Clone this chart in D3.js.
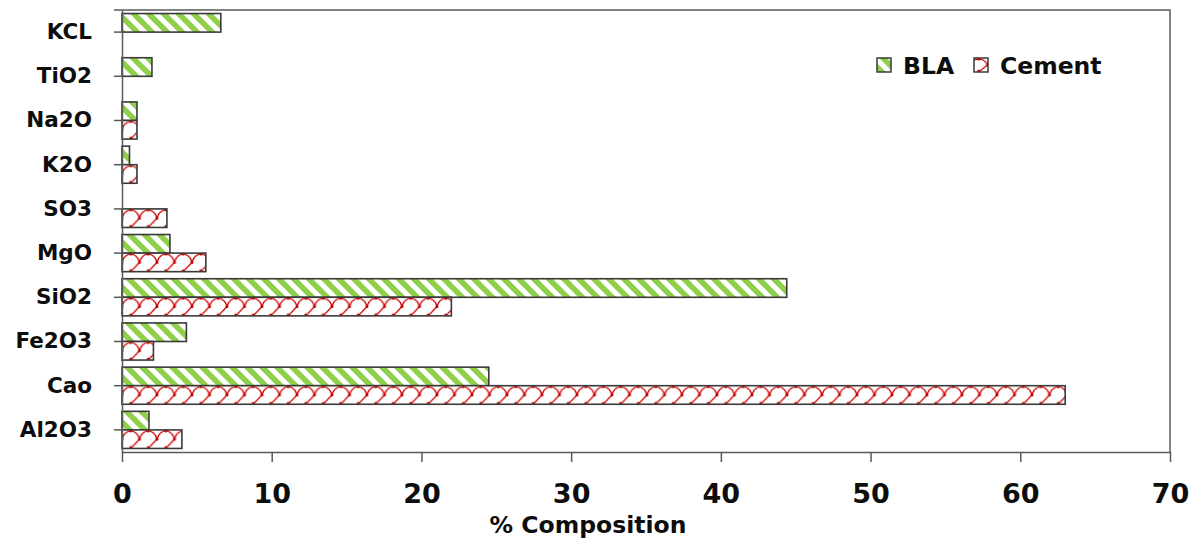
<!DOCTYPE html>
<html>
<head>
<meta charset="utf-8">
<script src="https://cdn.jsdelivr.net/npm/d3@7"></script>
<style>
  html, body { margin: 0; padding: 0; background: #fff; }
  svg { display: block; }
  text { font-family: "DejaVu Sans", sans-serif; font-weight: bold; fill: #0d0d0d; }
</style>
</head>
<body>
<svg id="chart" width="1196" height="542"></svg>
<script>
// Oxide composition (% by mass), listed top to bottom
const categories = ["KCL", "TiO2", "Na2O", "K2O", "SO3", "MgO", "SiO2", "Fe2O3", "Cao", "Al2O3"];
const blaValues    = [6.6, 2.0, 1.0, 0.5, null, 3.2, 44.4, 4.3, 24.5, 1.8];
const cementValues = [null, null, 1.0, 1.0, 3.0, 5.6, 22.0, 2.1, 63.0, 4.0];
const seriesNames = ["BLA", "Cement"];
const xTicks = [0, 10, 20, 30, 40, 50, 60, 70];
const xTitle = "% Composition";

const svg = d3.select("#chart");
const mLeft = 122, mRight = 1170, mTop = 10, mBottom = 452;

const x = d3.scaleLinear().domain([0, 70]).range([mLeft, mRight]);
const y = d3.scaleBand().domain(categories).range([mTop, mBottom])
  .paddingInner(0.16).paddingOuter(0.08);
const sub = d3.scaleBand().domain(seriesNames).range([0, y.bandwidth()]);

const defs = svg.append("defs");

// Green diagonal stripes
const green = defs.append("pattern").attr("id", "pGreen")
  .attr("patternUnits", "userSpaceOnUse").attr("width", 15).attr("height", 15);
green.append("rect").attr("width", 15).attr("height", 15).attr("fill", "#fff");
green.append("path")
  .attr("d", "M-4,-4 L19,19 M-4,11 L4,19 M11,-4 L19,4")
  .attr("stroke", "#8fcf4a").attr("stroke-width", 5.5);

// Red shingle pattern, anchored to the top of the shape it fills
let redCount = 0;
function redPattern(x0, y0, h) {
  const id = "pRed" + (redCount++);
  const w = 17.5;
  const p = defs.append("pattern").attr("id", id)
    .attr("patternUnits", "userSpaceOnUse").attr("width", w).attr("height", h)
    .attr("x", x0).attr("y", y0);
  p.append("rect").attr("width", w).attr("height", h).attr("fill", "#fff");
  const m = h / 2;
  p.append("path")
    .attr("d", `M0,${m} Q2,1.5 ${w / 2},0.8 Q${w - 2},1.5 ${w},${m} L${w / 2},${h} M0,${m} L${-w / 2},${h}`)
    .attr("fill", "none").attr("stroke", "#d40000").attr("stroke-width", 1.2);
  [[w / 2, 1], [w / 2, h - 1], [0, m], [w, m]].forEach(([cx, cy]) =>
    p.append("circle").attr("cx", cx).attr("cy", cy).attr("r", 1.5).attr("fill", "#c00000"));
  return `url(#${id})`;
}

function fillFor(series, x0, y0, h) {
  return series === "BLA" ? "url(#pGreen)" : redPattern(x0, y0, h);
}

// Bars
const g = svg.append("g");
categories.forEach((c, i) => {
  [{ s: "BLA", v: blaValues[i] }, { s: "Cement", v: cementValues[i] }]
    .filter(d => d.v != null)
    .forEach(d => {
      const y0 = y(c) + sub(d.s);
      g.append("rect")
        .attr("x", x(0)).attr("y", y0)
        .attr("width", x(d.v) - x(0)).attr("height", sub.bandwidth())
        .attr("fill", fillFor(d.s, x(0), y0, sub.bandwidth()))
        .attr("stroke", "#3a3a3a").attr("stroke-width", 1.6);
    });
});

// Plot frame (top and right sides)
svg.append("path")
  .attr("d", `M${mLeft - 8},${mTop} L${mRight},${mTop} L${mRight},${mBottom}`)
  .attr("fill", "none").attr("stroke", "#595959").attr("stroke-width", 1.5);

// X axis
const xAxis = svg.append("g").attr("transform", `translate(0,${mBottom})`)
  .call(d3.axisBottom(x).tickValues(xTicks).tickSize(10).tickSizeOuter(0).tickPadding(22));
xAxis.select(".domain").attr("stroke", "#595959").attr("stroke-width", 1.5);
xAxis.selectAll(".tick line").attr("stroke", "#595959").attr("stroke-width", 1.5);
xAxis.selectAll(".tick text").attr("font-size", 27).attr("fill", "#0d0d0d")
  .attr("font-family", "Lato, sans-serif");

// Y axis with ticks at category centres
const yAxis = svg.append("g").attr("transform", `translate(${mLeft},0)`)
  .call(d3.axisLeft(y).tickSize(8).tickSizeOuter(0).tickPadding(22));
yAxis.select(".domain").attr("stroke", "#595959").attr("stroke-width", 1.5);
yAxis.selectAll(".tick line").attr("stroke", "#595959").attr("stroke-width", 1.5);
yAxis.selectAll(".tick text").attr("font-size", 21.5).attr("font-family", null).attr("fill", "#0d0d0d");

// Axis title
svg.append("text").attr("x", 588).attr("y", 533).attr("text-anchor", "middle")
  .attr("font-size", 23.5).text(xTitle);

// Legend
const legend = svg.append("g");
[{ s: "BLA", lx: 877 }, { s: "Cement", lx: 974 }].forEach(it => {
  legend.append("rect").attr("x", it.lx).attr("y", 58).attr("width", 14).attr("height", 14)
    .attr("fill", fillFor(it.s, it.lx - 4, 58, 14))
    .attr("stroke", "#3a3a3a").attr("stroke-width", 1.5);
  legend.append("text").attr("x", it.lx + 26).attr("y", 74).attr("font-size", 23.5).text(it.s);
});
</script>
</body>
</html>
